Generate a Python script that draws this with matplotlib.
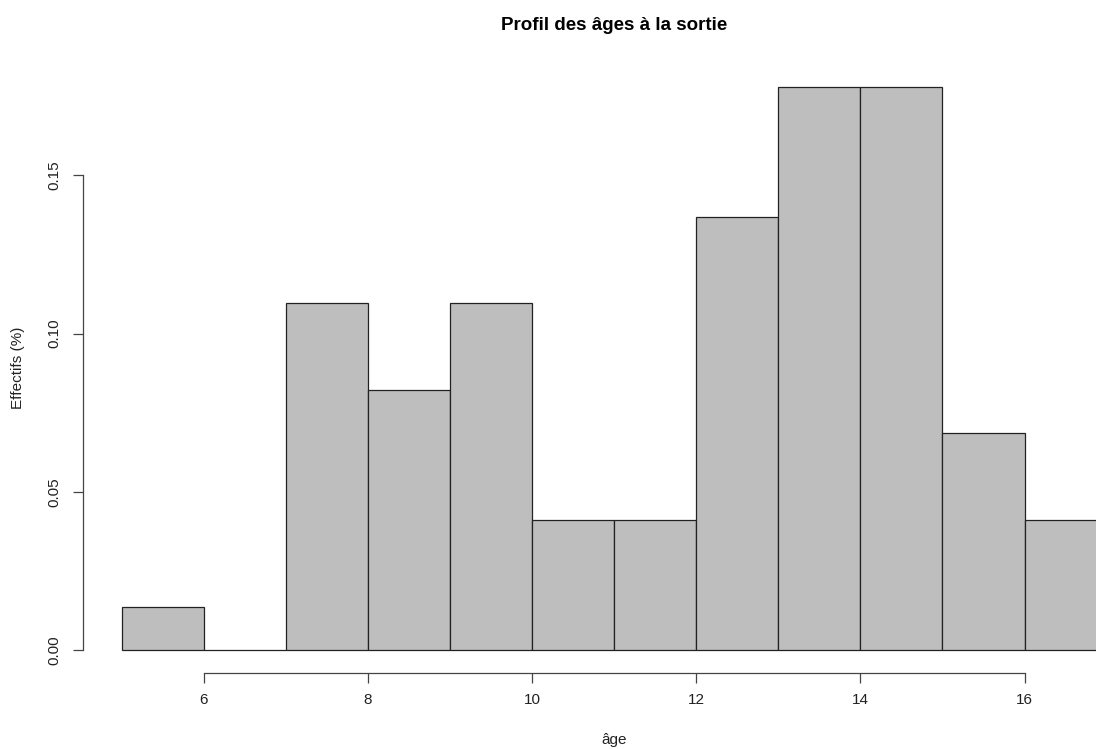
import matplotlib
matplotlib.use("Agg")
import matplotlib.pyplot as plt

bin_edges = [5, 6, 7, 8, 9, 10, 11, 12, 13, 14, 15, 16, 17]
densities = [0.0137, 0.0, 0.1096, 0.0822, 0.1096, 0.0411, 0.0411, 0.1370, 0.1781, 0.1781, 0.0685, 0.0411]
x_ticks = [6, 8, 10, 12, 14, 16]
y_ticks = [0.00, 0.05, 0.10, 0.15]
y_tick_labels = ["0.00", "0.05", "0.10", "0.15"]

plt.rcParams['font.family'] = ['Liberation Sans', 'DejaVu Sans']

W, H = 1096, 749
fig = plt.figure(figsize=(W / 100, H / 100), dpi=100)
left_px, right_px = 82.5, 1146.0
bottom_px, top_px = 672.5, 64.0
ax = fig.add_axes([left_px / W, 1 - bottom_px / H, (right_px - left_px) / W, (bottom_px - top_px) / H])

lefts = bin_edges[:-1]
widths = [b - a for a, b in zip(bin_edges[:-1], bin_edges[1:])]
ax.bar(lefts, densities, width=widths, align='edge', color='#bebebe', edgecolor='#222222', linewidth=0.9)

xmin, xmax = bin_edges[0], bin_edges[-1]
ymax = max(densities)
ax.set_xlim(xmin - 0.04 * (xmax - xmin), xmax + 0.04 * (xmax - xmin))
ax.set_ylim(-0.04 * ymax, ymax * 1.04)

for s in ['top', 'right']:
    ax.spines[s].set_visible(False)
ax.spines['left'].set_bounds(y_ticks[0], y_ticks[-1])
ax.spines['bottom'].set_bounds(x_ticks[0], x_ticks[-1])
for s in ['left', 'bottom']:
    ax.spines[s].set_color('#444444')
    ax.spines[s].set_linewidth(0.9)

ax.set_xticks(x_ticks)
ax.set_xticklabels([str(t) for t in x_ticks])
ax.set_yticks(y_ticks)
ax.set_yticklabels(y_tick_labels, rotation=90, va='center')
ax.tick_params(axis='both', direction='out', length=7, width=0.9, color='#444444', labelsize=11, pad=8, labelcolor='#222222')

fig.text(614 / W, 1 - 25 / H, "Profil des âges à la sortie", ha='center', va='center', fontsize=13.5, fontweight='bold')
fig.text(614 / W, 1 - 740 / H, "âge", ha='center', va='center', fontsize=11, color='#222222')
fig.text(18 / W, 1 - 368 / H, "Effectifs (%)", ha='center', va='center', rotation=90, fontsize=11, color='#222222')

fig.savefig("out.png", dpi=100)
